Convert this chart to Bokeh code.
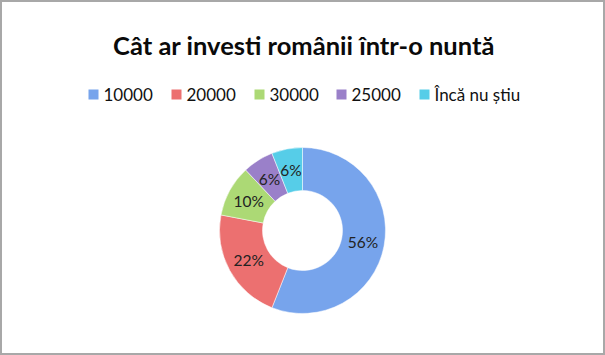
import math
from bokeh.plotting import figure
from bokeh.models import ColumnDataSource, Range1d
from bokeh.core.properties import value
from bokeh.embed import file_html
from bokeh.resources import INLINE

title = "Cât ar investi românii într-o nuntă"
categories = ["10000", "20000", "30000", "25000", "Încă nu știu"]
shares = [56, 22, 10, 6, 6]
labels = ["56%", "22%", "10%", "6%", "6%"]
colors = ["#77a4ec", "#ec7070", "#acd975", "#9a80c9", "#56cde8"]

W, H = 605, 355
CX, CY = 302, H - 230
R_IN, R_OUT = 40, 83
LEGEND_SQ_X = [93, 176, 259, 341, 424]
LEGEND_Y = H - 94

p = figure(width=W, height=H, output_backend="svg", toolbar_location=None,
           x_range=Range1d(0, W), y_range=Range1d(0, H), min_border=0,
           background_fill_color="white", border_fill_color="white")
p.axis.visible = False
p.grid.visible = False
p.outline_line_color = "#a8a8a8"
p.outline_line_width = 3

total = sum(shares)
starts, ends, mids = [], [], []
cum = 0
for s in shares:
    a0 = math.pi / 2 - 2 * math.pi * cum / total
    cum += s
    a1 = math.pi / 2 - 2 * math.pi * cum / total
    starts.append(a0)
    ends.append(a1)
    mids.append((a0 + a1) / 2)

src = ColumnDataSource(dict(start=starts, end=ends, color=colors))
p.annular_wedge(x=CX, y=CY, inner_radius=R_IN, outer_radius=R_OUT,
                start_angle="start", end_angle="end", direction="clock",
                fill_color="color", line_color="white", line_width=0.5, source=src)

r_lab = (R_IN + R_OUT) / 2
lx = [CX + r_lab * math.cos(m) for m in mids]
ly = [CY + r_lab * math.sin(m) for m in mids]
p.text(x=lx, y=ly, text=labels, text_font=value("Lato"), text_font_size="15.5px",
       text_color="#222222", text_align="center", text_baseline="middle")

p.text(x=[W / 2 + 1], y=[H - 44], text=[title], text_font=value("Lato"),
       text_font_size="25.5px", text_font_style="bold", text_color="#0a0a0a",
       text_align="center", text_baseline="middle")

p.scatter(x=LEGEND_SQ_X, y=[LEGEND_Y] * 5, marker="square", size=10,
          fill_color=colors, line_color=None)
p.text(x=[x + 10 for x in LEGEND_SQ_X], y=[LEGEND_Y] * 5, text=categories,
       text_font=value("Lato"), text_font_size="17px", text_color="#111111",
       text_align="left", text_baseline="middle")

open("out.html", "w").write(file_html(p, INLINE))
